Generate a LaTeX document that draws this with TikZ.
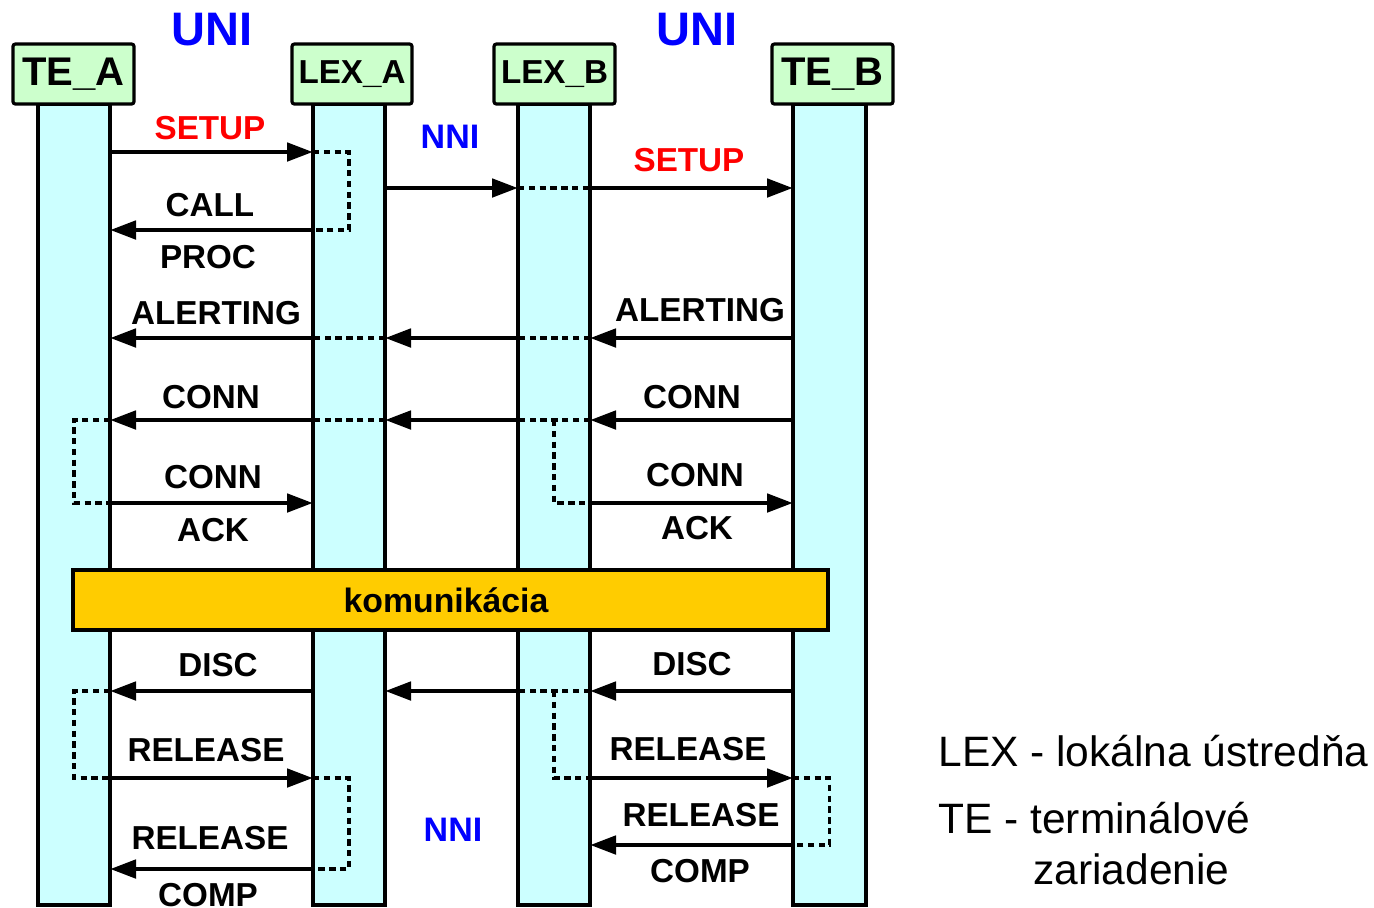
\documentclass[tikz,border=0pt]{standalone}
\usepackage{fontspec}
\setmainfont{Liberation Sans}
\usetikzlibrary{arrows.meta}
\definecolor{lifecyan}{HTML}{CCFFFF}
\definecolor{headgreen}{HTML}{CCFFCC}
\definecolor{commgold}{HTML}{FFCC00}
\definecolor{sigred}{HTML}{FF0000}
\definecolor{ifblue}{HTML}{0000FF}
\begin{document}
\begin{tikzpicture}[x=0.5pt,y=-0.5pt,
  life/.style={draw, fill=lifecyan, line width=1.6pt, minimum width=36pt, minimum height=400.5pt, inner sep=0pt, outer sep=0pt},
  head/.style={draw, fill=headgreen, line width=1.6pt, rounded corners=1.2pt, minimum width=60.5pt, minimum height=30pt, inner sep=0pt, outer sep=0pt},
  headbig/.style={head, font=\bfseries\fontsize{20}{22}\selectfont},
  headsmall/.style={head, font=\bfseries\fontsize{16.6}{18}\selectfont},
  msg/.style={line width=2.4pt, -{Triangle[length=13pt,width=9pt]}},
  loopd/.style={line width=1.8pt, dash pattern=on 3.2pt off 2.2pt},
  lbl/.style={font=\bfseries\fontsize{16.6}{18}\selectfont, inner sep=0pt},
  sig/.style={lbl, text=sigred},
  iface/.style={lbl, text=ifblue, font=\bfseries\fontsize{17}{19}\selectfont},
  ifbig/.style={font=\bfseries\fontsize{23.5}{25}\selectfont, text=ifblue, inner sep=0pt},
  legend/.style={font=\fontsize{21.25}{25}\selectfont, anchor=base west, inner sep=0pt},
  commbox/.style={draw, fill=commgold, line width=2.2pt, minimum width=377.5pt, minimum height=30pt, inner sep=0pt},
  commtext/.style={font=\bfseries\fontsize{16.9}{18}\selectfont, inner sep=0pt}
]
\useasboundingbox (0,0) rectangle (1374,907);

% lifelines
\node[life] (TA) at (74,504.5) {};
\node[life] (LA) at (349,504.5) {};
\node[life] (LB) at (554,504.5) {};
\node[life, minimum width=36.5pt] (TB) at (829.5,504.5) {};

% headers
\node[headbig] (hTA) at (73.5,74) {TE\_A};
\node[headsmall, minimum width=60pt] (hLA) at (352,74) {LEX\_A};
\node[headsmall] (hLB) at (554.5,74) {LEX\_B};
\node[headbig] (hTB) at (832.5,74) {TE\_B};

% interface labels
\node[ifbig] (uniA) at (212,30) {UNI};
\node[ifbig] (uniB) at (697,30) {UNI};
\node[iface] (nniA) at (450,137) {NNI};
\node[iface] (nniB) at (453,830) {NNI};

% rows
\coordinate (r1) at (0,152);
\coordinate (r2) at (0,188);
\coordinate (r3) at (0,230);
\coordinate (r4) at (0,338);
\coordinate (r5) at (0,420);
\coordinate (r6) at (0,503);
\coordinate (r7) at (0,691);
\coordinate (r8) at (0,778);
\coordinate (r9) at (0,845);
\coordinate (r10) at (0,869);

% communication box
\node[commbox] (comm) at (450.5,600) {};
\node[commtext] (commlbl) at (446,600) {komunikácia};

% SETUP / CALL PROC
\draw[msg] (TA.east |- r1) -- (LA.west |- r1);
\draw[loopd] (LA.west |- r1) -- (LA.center |- r1) -- (LA.center |- r3) -- (LA.west |- r3);
\draw[msg] (LA.west |- r3) -- (TA.east |- r3);
\draw[msg] (LA.east |- r2) -- (LB.west |- r2);
\draw[loopd] (LB.west |- r2) -- (LB.east |- r2);
\draw[msg] (LB.east |- r2) -- (TB.west |- r2);

% ALERTING
\draw[msg] (TB.west |- r4) -- (LB.east |- r4);
\draw[loopd] (LB.east |- r4) -- (LB.west |- r4);
\draw[msg] (LB.west |- r4) -- (LA.east |- r4);
\draw[loopd] (LA.east |- r4) -- (LA.west |- r4);
\draw[msg] (LA.west |- r4) -- (TA.east |- r4);

% CONN
\draw[msg] (TB.west |- r5) -- (LB.east |- r5);
\draw[loopd] (LB.east |- r5) -- (LB.west |- r5);
\draw[msg] (LB.west |- r5) -- (LA.east |- r5);
\draw[loopd] (LA.east |- r5) -- (LA.west |- r5);
\draw[msg] (LA.west |- r5) -- (TA.east |- r5);
\draw[loopd] (TA.east |- r5) -- (TA.center |- r5) -- (TA.center |- r6) -- (TA.east |- r6);
\draw[loopd] (LB.center |- r5) -- (LB.center |- r6) -- (LB.east |- r6);
% CONN ACK
\draw[msg] (TA.east |- r6) -- (LA.west |- r6);
\draw[msg] (LB.east |- r6) -- (TB.west |- r6);

% DISC
\draw[msg] (TB.west |- r7) -- (LB.east |- r7);
\draw[loopd] (LB.east |- r7) -- (LB.west |- r7);
\draw[msg] (LB.west |- r7) -- (LA.east |- r7);
\draw[msg] (LA.west |- r7) -- (TA.east |- r7);
\draw[loopd] (TA.east |- r7) -- (TA.center |- r7) -- (TA.center |- r8) -- (TA.east |- r8);
\draw[loopd] (LB.center |- r7) -- (LB.center |- r8) -- (LB.east |- r8);

% RELEASE
\draw[msg] (TA.east |- r8) -- (LA.west |- r8);
\draw[msg] (LB.east |- r8) -- (TB.west |- r8);
\draw[loopd] (LA.west |- r8) -- (LA.center |- r8) -- (LA.center |- r10) -- (LA.west |- r10);
\draw[loopd] (TB.west |- r8) -- (TB.center |- r8) -- (TB.center |- r9) -- (TB.west |- r9);
% RELEASE COMP
\draw[msg] (LA.west |- r10) -- (TA.east |- r10);
\draw[msg] (TB.west |- r9) -- (LB.east |- r9);

% message labels
\node[sig] (tSetA) at (210,128) {SETUP};
\node[lbl] (tCall) at (210,205) {CALL};
\node[lbl] (tProc) at (208,257) {PROC};
\node[sig] (tSetB) at (689,160) {SETUP};
\node[lbl] (tAlB) at (700,310) {ALERTING};
\node[lbl] (tAlA) at (216,313) {ALERTING};
\node[lbl] (tConA) at (211,397) {CONN};
\node[lbl] (tConB) at (692,397) {CONN};
\node[lbl] (tCAckA1) at (213,477) {CONN};
\node[lbl] (tCAckA2) at (213,530) {ACK};
\node[lbl] (tCAckB1) at (695,475) {CONN};
\node[lbl] (tCAckB2) at (697,528) {ACK};
\node[lbl] (tDiscA) at (218,665) {DISC};
\node[lbl] (tDiscB) at (692,664) {DISC};
\node[lbl] (tRelA) at (206,750) {RELEASE};
\node[lbl] (tRelB) at (688,749) {RELEASE};
\node[lbl] (tRcB1) at (701,815) {RELEASE};
\node[lbl] (tRcB2) at (700,871) {COMP};
\node[lbl] (tRcA1) at (210,838) {RELEASE};
\node[lbl] (tRcA2) at (208,895) {COMP};

% legend
\node[legend] (leg1) at (938,766) {LEX - lokálna ústredňa};
\node[legend] (leg2) at (938,833) {TE - terminálové};
\node[legend] (leg3) at (1033,884) {zariadenie};
\end{tikzpicture}
\end{document}
